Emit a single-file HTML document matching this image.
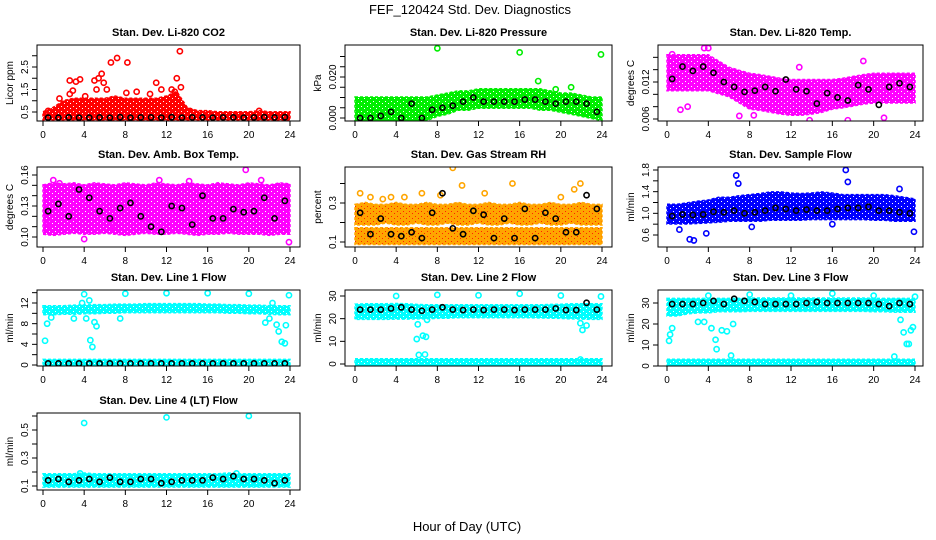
<!DOCTYPE html>
<html><head><meta charset="utf-8">
<style>
html,body{margin:0;padding:0;background:#fff;}
svg{display:block;font-family:"Liberation Sans",Arial,sans-serif;}
</style></head>
<body>
<svg id="chart" width="936" height="540" viewBox="0 0 936 540">
<defs id="defs"></defs>
<text x="470" y="14" text-anchor="middle" font-size="13">FEF_120424  Std. Dev. Diagnostics</text>
<text x="467" y="531" text-anchor="middle" font-size="13">Hour of Day (UTC)</text>
</svg>
<script>
// ---- shared data ----
const bandHours = [0,1,2,3,4,5,6,7,8,9,10,11,12,13,14,15,16,17,18,19,20,21,22,23,24];
const blackHours = [0.5,1.5,2.5,3.5,4.5,5.5,6.5,7.5,8.5,9.5,10.5,11.5,12.5,13.5,14.5,15.5,16.5,17.5,18.5,19.5,20.5,21.5,22.5,23.5];
const xTicks = [0,4,8,12,16,20,24];

// ---- CO2 ----
const co2Lo = [0.25,0.25,0.25,0.25,0.25,0.25,0.25,0.25,0.25,0.25,0.25,0.25,0.25,0.25,0.25,0.25,0.25,0.25,0.25,0.25,0.25,0.25,0.25,0.25,0.25];
const co2Hi = [0.4,0.6,0.9,1.0,1.0,1.0,1.0,1.1,1.0,1.0,1.0,1.0,1.1,1.3,0.6,0.45,0.45,0.4,0.4,0.4,0.4,0.45,0.4,0.4,0.4];
const co2OutX = [2.6,3.2,3.6,2.6,2.9,1.6,4.1,5,5.4,5.7,5.2,5.9,6.2,6.6,7.2,8.2,8.1,9.1,10.4,11,11.5,12.5,12.8,13,13.3,13.4,0.5,21];
const co2OutY = [1.9,1.85,1.95,1.3,1.45,1.1,1.2,1.9,2.0,2.2,1.5,1.8,1.5,2.7,2.9,2.7,1.35,1.4,1.3,1.8,1.5,1.5,1.4,2.0,3.2,1.6,0.55,0.55];
const co2Black = [0.25,0.25,0.26,0.25,0.25,0.26,0.25,0.27,0.25,0.26,0.26,0.25,0.27,0.25,0.26,0.26,0.25,0.26,0.26,0.25,0.26,0.27,0.26,0.27];

// ---- Pressure ----
const prLo = [0,0,0,0,0,0,0,0,0.002,0.003,0.005,0.005,0.006,0.006,0.006,0.006,0.006,0.006,0.005,0.005,0.004,0.003,0.002,0.001,0];
const prHi = [0.009,0.009,0.009,0.009,0.009,0.009,0.009,0.009,0.010,0.011,0.012,0.012,0.013,0.013,0.013,0.013,0.013,0.013,0.013,0.012,0.011,0.011,0.010,0.009,0.009];
const prOutX = [8,16,23.9,17.8,21,19.5];
const prOutY = [0.034,0.032,0.031,0.018,0.015,0.014];
const prBlack = [0,0,0.001,0.003,0,0.007,0,0.004,0.005,0.006,0.008,0.010,0.008,0.008,0.008,0.008,0.009,0.009,0.008,0.007,0.008,0.008,0.007,0.003];

// ---- Li-820 Temp ----
const tpLo = [0.011,0.011,0.011,0.011,0.011,0.0105,0.010,0.009,0.008,0.0078,0.0075,0.0072,0.007,0.007,0.0072,0.0075,0.008,0.0082,0.0085,0.0088,0.009,0.009,0.009,0.009,0.009];
const tpHi = [0.016,0.016,0.016,0.016,0.016,0.015,0.014,0.0135,0.013,0.0128,0.0125,0.0122,0.012,0.012,0.012,0.012,0.012,0.0122,0.0125,0.0128,0.013,0.013,0.013,0.013,0.013];
const tpOutX = [3.6,4,1.3,7,13.8,17.5,21,2,12.8,19,0.5,8.4];
const tpOutY = [0.0175,0.0175,0.0075,0.0065,0.0058,0.0058,0.0062,0.008,0.0144,0.0154,0.0165,0.0066];
const tpBlack = [0.0125,0.0145,0.0138,0.0145,0.0135,0.012,0.0112,0.0104,0.0106,0.0112,0.0105,0.0124,0.0108,0.0105,0.0085,0.0102,0.0095,0.009,0.0115,0.0108,0.0083,0.0112,0.0118,0.0112];

// ---- Amb Box Temp ----
const abLo = [0.105,0.104,0.105,0.106,0.105,0.105,0.106,0.105,0.104,0.105,0.106,0.105,0.105,0.106,0.105,0.104,0.105,0.105,0.106,0.105,0.105,0.105,0.104,0.105,0.105];
const abHi = [0.148,0.15,0.149,0.15,0.148,0.15,0.149,0.148,0.15,0.149,0.148,0.15,0.149,0.148,0.15,0.149,0.148,0.15,0.149,0.148,0.15,0.149,0.148,0.15,0.149];
const abOutX = [1.0,1.6,4.0,14.2,19.7,21.2,23.9,11.3,0.5,6.9];
const abOutY = [0.155,0.152,0.098,0.154,0.165,0.155,0.095,0.155,0.112,0.110];
const abBlack = [0.125,0.132,0.12,0.146,0.138,0.125,0.118,0.128,0.133,0.12,0.110,0.105,0.130,0.128,0.112,0.14,0.118,0.118,0.127,0.124,0.125,0.138,0.118,0.135];

// ---- Gas Stream RH ----
const rhLo1 = [0.1,0.1,0.1,0.1,0.1,0.1,0.1,0.1,0.1,0.1,0.1,0.1,0.1,0.1,0.1,0.1,0.1,0.1,0.1,0.1,0.1,0.1,0.1,0.1,0.1];
const rhHi1 = [0.16,0.16,0.16,0.16,0.16,0.16,0.16,0.16,0.16,0.16,0.16,0.16,0.16,0.16,0.16,0.16,0.16,0.16,0.16,0.16,0.16,0.16,0.16,0.16,0.16];
const rhLo2 = [0.2,0.2,0.2,0.21,0.2,0.2,0.21,0.2,0.2,0.21,0.2,0.2,0.21,0.2,0.2,0.21,0.2,0.2,0.21,0.2,0.2,0.21,0.2,0.2,0.2];
const rhHi2 = [0.28,0.29,0.28,0.28,0.29,0.28,0.28,0.29,0.28,0.28,0.29,0.28,0.28,0.29,0.28,0.28,0.29,0.28,0.28,0.29,0.28,0.28,0.29,0.28,0.28];
const rhOutX = [0.5,1.5,2.7,3.5,4.8,6.5,9.5,8.3,10.4,12.6,15.3,20,21.3,21.9];
const rhOutY = [0.35,0.33,0.32,0.33,0.33,0.35,0.48,0.34,0.39,0.35,0.40,0.33,0.37,0.40];
const rhBlack = [0.25,0.14,0.22,0.14,0.13,0.15,0.12,0.25,0.35,0.17,0.14,0.26,0.24,0.12,0.22,0.12,0.27,0.12,0.25,0.22,0.15,0.15,0.34,0.27];

// ---- Sample Flow ----
const sfLo = [0.85,0.85,0.85,0.86,0.87,0.88,0.9,0.9,0.9,0.9,0.92,0.92,0.92,0.92,0.93,0.93,0.93,0.93,0.93,0.93,0.92,0.92,0.9,0.9,0.9];
const sfHi = [1.12,1.12,1.15,1.18,1.2,1.25,1.25,1.28,1.3,1.32,1.35,1.35,1.33,1.32,1.33,1.35,1.33,1.3,1.3,1.3,1.3,1.3,1.28,1.25,1.22];
const sfOutX = [6.7,6.9,17.3,2.2,2.6,3.8,1.2,8.2,16,23.9,22.5,17.5];
const sfOutY = [1.7,1.55,1.8,0.52,0.5,0.63,0.7,0.75,0.8,0.66,1.45,1.58];
const sfBlack = [0.95,0.98,0.97,0.98,1.03,1.02,1.05,1.0,1.02,1.05,1.1,1.08,1.05,1.07,1.05,1.05,1.08,1.1,1.1,1.12,1.05,1.05,1.02,1.0];

// ---- Line 1 Flow ----
const l1Lo = [10.2,10.2,10.3,10.3,10.4,10.4,10.5,10.5,10.6,10.6,10.6,10.6,10.6,10.6,10.6,10.6,10.6,10.6,10.5,10.5,10.4,10.4,10.3,10.2,10.2];
const l1Hi = [11.0,11.0,11.0,11.1,11.1,11.2,11.2,11.3,11.3,11.3,11.4,11.4,11.4,11.4,11.4,11.4,11.3,11.3,11.2,11.2,11.1,11.1,11.0,11.0,11.0];
const l1BLo = [0,0,0,0,0,0,0,0,0,0,0,0,0,0,0,0,0,0,0,0,0,0,0,0,0];
const l1BHi = [0.6,0.6,0.6,0.6,0.6,0.6,0.6,0.6,0.6,0.6,0.6,0.6,0.6,0.6,0.6,0.6,0.6,0.6,0.6,0.6,0.6,0.6,0.6,0.6,0.6];
const l1OutX = [0.2,0.4,4,3.8,4.5,4.6,4.8,5.2,5,8,12,16,20,23.9,21.6,22,22.7,22.9,23.2,23.5,23.6,3,4.2,7.5,0.8,22.3];
const l1OutY = [4.7,8,13.7,12,12.5,4.8,3.5,7.5,8.3,13.8,13.9,13.9,13.8,13.5,8.2,9,7.8,6.5,4.5,4.2,7.7,9,9,9,9.2,12];
const l1Black = [0.3,0.3,0.3,0.3,0.3,0.3,0.3,0.3,0.3,0.3,0.3,0.3,0.3,0.3,0.3,0.3,0.3,0.3,0.3,0.3,0.3,0.3,0.3,0.3];

// ---- Line 2 Flow ----
const l2Lo = [20.8,20.8,20.8,20.8,20.9,20.9,21,21,21.2,21.3,21.5,21.5,21.5,21.5,21.5,21.5,21.5,21.5,21.4,21.3,21.2,21.0,20.9,20.8,20.8];
const l2Hi = [25.3,25.5,25.5,25.5,25.6,25.5,25.2,25.0,25.0,25.0,25.0,25.0,25.0,25.0,25.0,25.0,25.0,25.0,25.0,25.2,25.3,25.5,25.5,25.5,25.5];
const l2BLo = [0,0,0,0,0,0,0,0,0,0,0,0,0,0,0,0,0,0,0,0,0,0,0,0,0];
const l2BHi = [1.2,1.2,1.2,1.2,1.2,1.2,1.2,1.2,1.2,1.2,1.2,1.2,1.2,1.2,1.2,1.2,1.2,1.2,1.2,1.2,1.2,1.2,1.2,1.2,1.2];
const l2OutX = [4,8,12,16,20,23.9,6,6.2,6.6,6.8,6.9,6.1,21.9,22.1,22.5,21.9,7];
const l2OutY = [30,30.5,30.3,31,30.2,29.8,11,4,12.5,4.2,12,17.5,18,15,17,2,19.5];
const l2Black = [24,24,24,24.5,25,24,23.5,24,25,24,23.8,24,23.8,24,24,23.8,24,24,24,24.5,23.8,23.8,27,24];

// ---- Line 3 Flow ----
const l3Lo = [25,25,26,26.5,26.5,27,27,27,27.2,27.2,27.2,27.2,27.2,27.2,27.2,27.2,27.2,27.2,27.2,27.2,27,27,26.8,26.8,26.8];
const l3Hi = [31,31,31,31,31,31,31,31,31.2,31.2,31.2,31.2,31.2,31.2,31.2,31.2,31.2,31.2,31.2,31.2,31,31,31,31,31];
const l3BLo = [0.3,0.3,0.3,0.3,0.3,0.3,0.3,0.3,0.3,0.3,0.3,0.3,0.3,0.3,0.3,0.3,0.3,0.3,0.3,0.3,0.3,0.3,0.3,0.3,0.3];
const l3BHi = [2,2,2,2,2,2,2,2,2,2,2,2,2,2,2,2,2,2,2,2,2,2,2,2,2];
const l3OutX = [0.2,0.3,0.5,3,3.6,4,4.3,4.7,4.8,5.3,5.8,6.2,6.4,8,12,16,20,22,22.6,22.9,23.2,23.4,23.6,23.8,24];
const l3OutY = [12,15,18,21,21,33.5,18,12.5,8,17,16.5,5,20,34,33.5,34.5,33.5,4.5,22,16,10.5,10.5,17,18.5,33];
const l3Black = [29.5,29.5,29.5,30,31,29.5,32,31,30.5,29.5,29.5,29.5,29.5,30,30.5,30,30,30,30,30,29.5,28.5,30,29.5];

// ---- Line 4 (LT) Flow ----
const l4Lo = [0.11,0.11,0.11,0.11,0.11,0.11,0.11,0.11,0.11,0.11,0.11,0.11,0.11,0.11,0.11,0.11,0.11,0.11,0.11,0.11,0.11,0.11,0.11,0.11,0.11];
const l4Hi = [0.17,0.17,0.17,0.17,0.175,0.17,0.17,0.17,0.17,0.17,0.17,0.17,0.17,0.17,0.17,0.17,0.17,0.17,0.175,0.17,0.17,0.17,0.17,0.17,0.17];
const l4OutX = [4,12,20,3.6,18.8];
const l4OutY = [0.55,0.59,0.6,0.19,0.19];
const l4Black = [0.14,0.15,0.13,0.14,0.15,0.13,0.16,0.13,0.13,0.15,0.15,0.12,0.13,0.14,0.14,0.14,0.16,0.15,0.17,0.15,0.15,0.14,0.12,0.14];

// ---- panel definitions (layout) ----
const panels = [
 {name:'co2',title:'Stan. Dev. Li-820 CO2',ylab:'Licor ppm',box:[37,300,45,121],xp:[43,290],ya:[0.5,112,2.5,67],ticks:[0.5,1,1.5,2,2.5,3],labels:['0.5','','1.5','','2.5',''],color:'#ff0000',bands:[[co2Lo,co2Hi]],ox:co2OutX,oy:co2OutY,black:co2Black},
 {name:'pressure',title:'Stan. Dev. Li-820 Pressure',ylab:'kPa',box:[345,612,45,121],xp:[355,602],ya:[0,118,0.02,77],ticks:[0,0.005,0.01,0.015,0.02,0.025,0.03],labels:['0.000','','','','0.020','',''],color:'#00ee00',bands:[[prLo,prHi]],ox:prOutX,oy:prOutY,black:prBlack},
 {name:'li820-temp',title:'Stan. Dev. Li-820 Temp.',ylab:'degrees C',box:[658,923,45,121],xp:[667,915],ya:[0.006,119,0.012,82],ticks:[0.006,0.008,0.01,0.012,0.014,0.016],labels:['0.006','','','0.012','',''],color:'#ff00ff',bands:[[tpLo,tpHi]],ox:tpOutX,oy:tpOutY,black:tpBlack},
 {name:'amb-box-temp',title:'Stan. Dev. Amb. Box Temp.',ylab:'degrees C',box:[37,300,167,247],xp:[43,290],ya:[0.10,237,0.16,175],ticks:[0.10,0.11,0.12,0.13,0.14,0.15,0.16],labels:['0.10','','','0.13','','','0.16'],color:'#ff00ff',bands:[[abLo,abHi]],ox:abOutX,oy:abOutY,black:abBlack},
 {name:'gas-stream-rh',title:'Stan. Dev. Gas Stream RH',ylab:'percent',box:[345,612,167,247],xp:[355,602],ya:[0.1,242,0.3,203],ticks:[0.1,0.2,0.3,0.4],labels:['0.1','','0.3',''],color:'#ffa500',dot:'#ff2200',bands:[[rhLo1,rhHi1],[rhLo2,rhHi2]],ox:rhOutX,oy:rhOutY,black:rhBlack},
 {name:'sample-flow',title:'Stan. Dev. Sample Flow',ylab:'ml/min',box:[658,923,167,247],xp:[667,915],ya:[0.6,235,1.8,170],ticks:[0.6,0.8,1.0,1.2,1.4,1.6,1.8],labels:['0.6','','1.0','','1.4','','1.8'],color:'#0000ff',bands:[[sfLo,sfHi]],ox:sfOutX,oy:sfOutY,black:sfBlack},
 {name:'line1-flow',title:'Stan. Dev. Line 1 Flow',ylab:'ml/min',box:[37,300,290,366],xp:[43,290],ya:[0,365,12,303],ticks:[0,2,4,6,8,10,12,14],labels:['0','','4','','8','','12',''],color:'#00ffff',bands:[[l1Lo,l1Hi],[l1BLo,l1BHi]],ox:l1OutX,oy:l1OutY,black:l1Black},
 {name:'line2-flow',title:'Stan. Dev. Line 2 Flow',ylab:'ml/min',box:[345,612,290,366],xp:[355,602],ya:[0,364,30,296],ticks:[0,10,20,30],labels:['0','10','20','30'],color:'#00ffff',bands:[[l2Lo,l2Hi],[l2BLo,l2BHi]],ox:l2OutX,oy:l2OutY,black:l2Black},
 {name:'line3-flow',title:'Stan. Dev. Line 3 Flow',ylab:'ml/min',box:[658,923,290,366],xp:[667,915],ya:[0,366,30,303],ticks:[0,10,20,30],labels:['0','10','20','30'],color:'#00ffff',bands:[[l3Lo,l3Hi],[l3BLo,l3BHi]],ox:l3OutX,oy:l3OutY,black:l3Black},
 {name:'line4-flow',title:'Stan. Dev. Line 4 (LT) Flow',ylab:'ml/min',box:[37,300,413,490],xp:[43,290],ya:[0.1,486,0.5,430],ticks:[0.1,0.2,0.3,0.4,0.5,0.6],labels:['0.1','','0.3','','0.5',''],color:'#00ffff',bands:[[l4Lo,l4Hi]],ox:l4OutX,oy:l4OutY,black:l4Black}
];

const NS='http://www.w3.org/2000/svg';
const svg=document.getElementById('chart');
const defs=document.getElementById('defs');
function mk(tag,attrs,parent){const e=document.createElementNS(NS,tag);for(const k in attrs)e.setAttribute(k,attrs[k]);parent.appendChild(e);return e;}

panels.forEach(p=>{
  const [bx0,bx1,by0,by1]=p.box;
  const xs=v=>p.xp[0]+(p.xp[1]-p.xp[0])*v/24;
  const ys=v=>p.ya[1]+(p.ya[3]-p.ya[1])*(v-p.ya[0])/(p.ya[2]-p.ya[0]);
  // texture pattern for dense region (overplotted circles look)
  const patId='pat-'+p.name;
  const pat=mk('pattern',{id:patId,width:6,height:5,patternUnits:'userSpaceOnUse'},defs);
  mk('rect',{x:0,y:0,width:6,height:5,fill:p.color},pat);
  mk('rect',{x:1,y:1,width:1,height:1,fill:p.dot||'#ffffff'},pat);
  mk('rect',{x:4,y:3,width:1,height:1,fill:p.dot||'#ffffff'},pat);
  const g=mk('g',{},svg);
  
  
  const clipId='clip-'+p.name;
  const cp=mk('clipPath',{id:clipId},g);
  mk('rect',{x:bx0,y:by0,width:bx1-bx0,height:by1-by0},cp);
  const plot=mk('g',{'clip-path':'url(#'+clipId+')'},g);
  
  
  p.bands.forEach(b=>{
    const lo=b[0],hi=b[1];
    let d='';
    bandHours.forEach((h,i)=>{d+=(i?'L':'M')+xs(h).toFixed(1)+','+(ys(hi[i])-2.5).toFixed(1);});
    for(let i=bandHours.length-1;i>=0;i--){d+='L'+xs(bandHours[i]).toFixed(1)+','+(ys(lo[i])+2.5).toFixed(1);}
    const band=mk('path',{d:d+'Z',fill:'url(#'+patId+')',stroke:p.color,'stroke-width':1.5,'stroke-dasharray':'3,2'},plot);
    
    
  });
  p.ox.forEach((x,i)=>{
    const c=mk('circle',{cx:xs(x),cy:ys(p.oy[i]),r:2.6,fill:'none',stroke:p.color,'stroke-width':1.6},plot);
    
    
  });
  blackHours.forEach((h,i)=>{
    const c=mk('circle',{cx:xs(h),cy:ys(p.black[i]),r:2.6,fill:'none',stroke:'#000','stroke-width':1.6},plot);
    
    
  });
  const box=mk('rect',{x:bx0,y:by0,width:bx1-bx0,height:by1-by0,fill:'none',stroke:'#000','stroke-width':1},g);
  
  
  const t=mk('text',{x:(bx0+bx1)/2,y:by0-9,'text-anchor':'middle','font-size':11,'font-weight':'bold'},g);
  t.textContent=p.title;
  
  
  xTicks.forEach(v=>{
    const x=xs(v);
    mk('line',{x1:x,x2:x,y1:by1,y2:by1+5,stroke:'#000'},g);
    const tl=mk('text',{x:x,y:by1+17,'text-anchor':'middle','font-size':10},g);
    tl.textContent=v;
    
    
  });
  p.ticks.forEach((v,i)=>{
    const y=ys(v);
    if(y<by0-1||y>by1+1)return;
    mk('line',{x1:bx0,x2:bx0-5,y1:y,y2:y,stroke:'#000'},g);
    if(p.labels[i]){
      const tl=mk('text',{x:bx0-9,y:y,'text-anchor':'middle','font-size':10,transform:'rotate(-90 '+(bx0-9)+' '+y+')'},g);
      tl.textContent=p.labels[i];
      
      
    }
  });
  const yc=(by0+by1)/2;
  const yl=mk('text',{x:bx0-24,y:yc,'text-anchor':'middle','font-size':10,transform:'rotate(-90 '+(bx0-24)+' '+yc+')'},g);
  yl.textContent=p.ylab;
  
  
});
</script>
</body></html>
